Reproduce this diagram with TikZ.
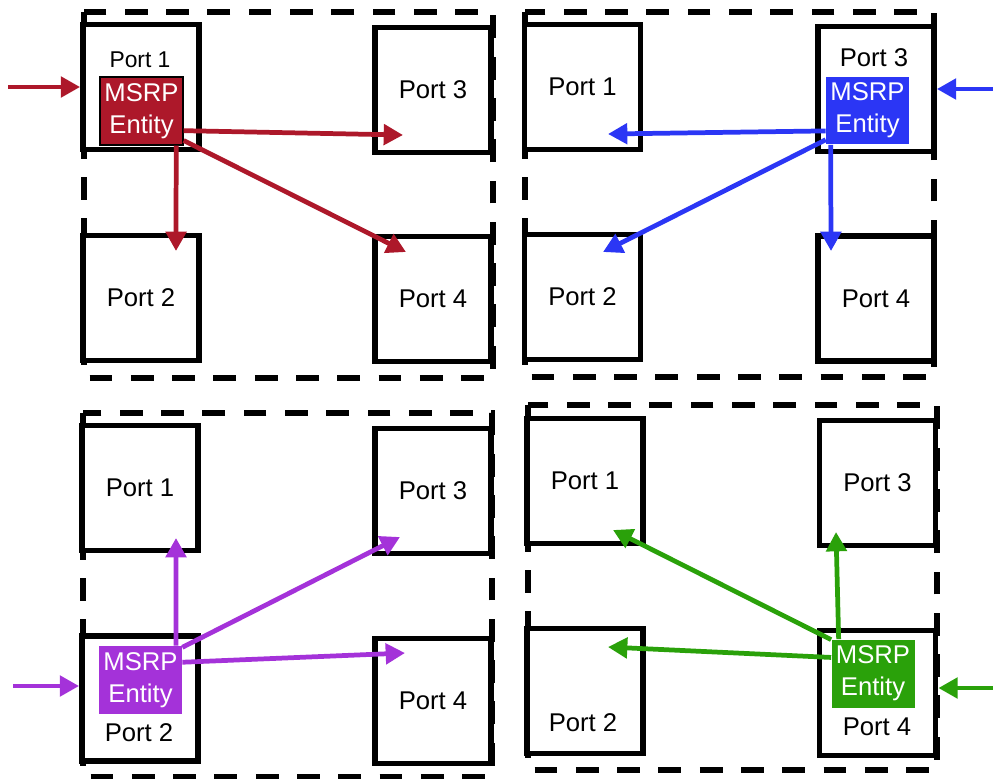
\documentclass[tikz,border=0pt]{standalone}
\usepackage{fontspec}
\setmainfont{Liberation Sans}
\usetikzlibrary{arrows.meta}
\definecolor{msrpred}{RGB}{173,24,42}
\definecolor{msrpblue}{RGB}{43,54,245}
\definecolor{msrppurple}{RGB}{164,50,217}
\definecolor{msrpgreen}{RGB}{42,161,10}
\begin{document}
\begin{tikzpicture}[x=0.02cm, y=-0.02cm, font=\fontsize{14.6}{18}\selectfont,
  port/.style={draw=black, fill=white, line width=3.3pt,
               minimum width=2.32cm, minimum height=2.5cm, inner sep=0pt},
  plabel/.style={inner sep=0pt},
  msrp/.style={minimum width=1.66cm, minimum height=1.36cm,
               inner sep=0pt, text=white, align=center},
  switchbox/.style={draw=black, line width=3.3pt, dash pattern=on 13pt off 10.5pt},
  flow/.style={line width=2.7pt, -{Triangle[length=11pt, width=11.5pt]}}
]
\useasboundingbox (0,0) rectangle (993,778);
\draw[switchbox] (84,12) rectangle (493,378);
\draw[switchbox] (525,12) rectangle (934,377);
\draw[switchbox] (83,413) rectangle (492,777);
\draw[switchbox] (528,405) rectangle (937,770);
\node[port] (A1) at (141,87) {};
\node[port] (A3) at (433,90) {Port 3};
\node[port] (A2) at (141,298) {Port 2};
\node[port] (A4) at (433,299) {Port 4};
\node[port] (B1) at (582.5,87) {Port 1};
\node[port] (B3) at (876,89) {};
\node[port] (B2) at (582.5,297) {Port 2};
\node[port] (B4) at (876,298.5) {Port 4};
\node[port] (C1) at (140,488) {Port 1};
\node[port] (C3) at (433,491) {Port 3};
\node[port] (C2) at (140,698.5) {};
\node[port] (C4) at (433,701) {Port 4};
\node[port] (D1) at (585,481) {Port 1};
\node[port] (D3) at (877.5,483) {Port 3};
\node[port] (D2) at (585,691) {};
\node[port] (D4) at (877.5,693) {};
\node[plabel, font=\fontsize{13}{16}\selectfont] (lA1) at (140,60) {Port 1};
\node[plabel] (lB3) at (874,58) {Port 3};
\node[plabel] (lC2) at (139,733) {Port 2};
\node[plabel] (lD2) at (583,723) {Port 2};
\node[plabel] (lD4) at (877,727) {Port 4};
\node[msrp, fill=msrpred, draw=black, line width=0.8pt] (eA) at (141.5,111) {MSRP\\Entity};
\node[msrp, fill=msrpblue] (eB) at (867.5,110.5) {MSRP\\Entity};
\node[msrp, fill=msrppurple] (eC) at (140.5,680) {MSRP\\Entity};
\node[msrp, fill=msrpgreen] (eD) at (873,673.5) {MSRP\\Entity};
\coordinate (inA) at (8,87);
\coordinate (inB) at (993,89);
\coordinate (inC) at (13,686);
\coordinate (inD) at (993,688);
\coordinate (tA2) at (176,251);
\coordinate (tA3) at (403,135);
\coordinate (tA4) at (406,252);
\coordinate (tB1) at (608,134);
\coordinate (tB2) at (603,252);
\coordinate (tB4) at (831,251);
\coordinate (tC1) at (176,538);
\coordinate (tC3) at (400,537);
\coordinate (tC4) at (405,653);
\coordinate (tD1) at (613,530);
\coordinate (tD2) at (608,647);
\coordinate (tD3) at (836,532);
\draw[flow, msrpred] (inA) -- (inA -| A1.west);
\draw[flow, msrpred] (eA.-45) -- (tA2);
\draw[flow, msrpred] (eA.-25) -- (tA3);
\draw[flow, msrpred] (eA.-35) -- (tA4);
\draw[flow, msrpblue] (inB) -- (inB -| B3.east);
\draw[flow, msrpblue] (eB.206) -- (tB1);
\draw[flow, msrpblue] (eB.215) -- (tB2);
\draw[flow, msrpblue] (eB.223) -- (tB4);
\draw[flow, msrppurple] (inC) -- (inC -| C2.west);
\draw[flow, msrppurple] (eC.44) -- (tC1);
\draw[flow, msrppurple] (eC.38) -- (tC3);
\draw[flow, msrppurple] (eC.23) -- (tC4);
\draw[flow, msrpgreen] (inD) -- (inD -| D4.east);
\draw[flow, msrpgreen] (eD.141) -- (tD1);
\draw[flow, msrpgreen] (eD.159) -- (tD2);
\draw[flow, msrpgreen] (eD.135) -- (tD3);
\end{tikzpicture}
\end{document}
